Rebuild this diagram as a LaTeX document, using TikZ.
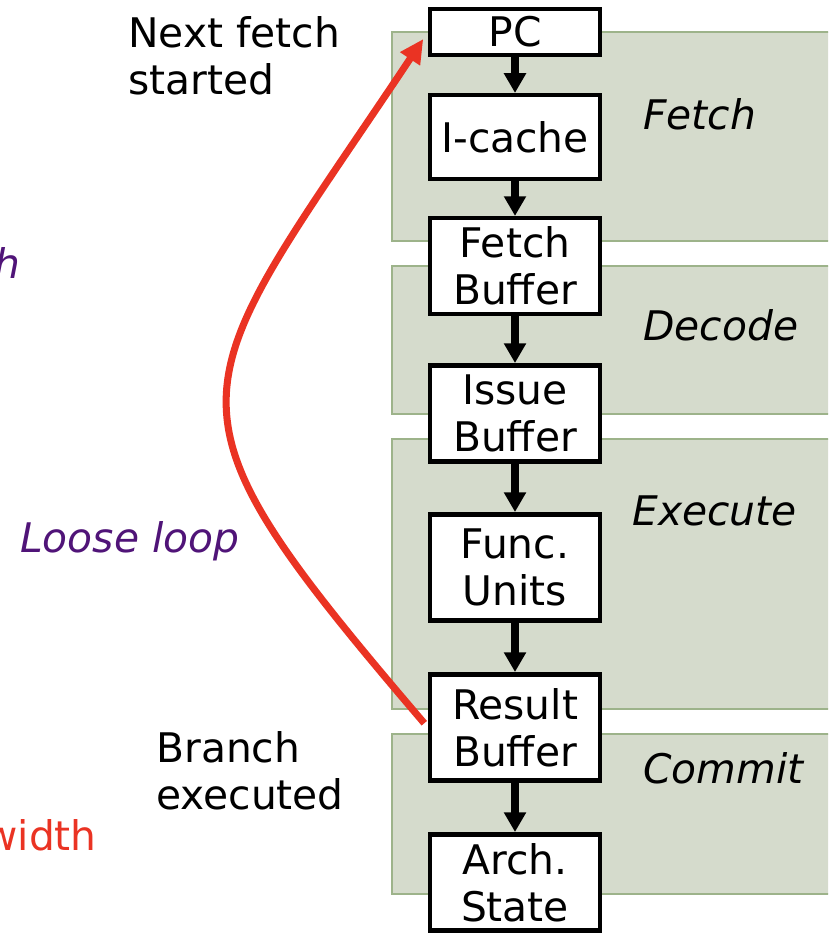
\documentclass[tikz,border=0pt]{standalone}
\usepackage{fontspec}
\setmainfont{DejaVu Sans}
\usetikzlibrary{arrows.meta}
\definecolor{stagegreen}{RGB}{213,219,204}
\definecolor{stageline}{RGB}{157,179,138}
\definecolor{loopred}{RGB}{234,51,35}
\definecolor{loosepurple}{RGB}{80,20,120}

\tikzset{
  stage/.style={fill=stagegreen, draw=stageline, line width=0.8pt},
  unit/.style={draw=black, fill=white, line width=3.2pt, minimum width=4.24cm, align=center, inner sep=0pt},
  flow/.style={-{Triangle[length=14pt,width=15pt]}, line width=5pt},
  feedback/.style={-{Triangle[length=17pt,width=16pt]}, draw=loopred, line width=5pt},
  stagelabel/.style={anchor=base west, inner sep=0pt, font=\itshape},
  note/.style={anchor=west, align=left, inner sep=0pt}
}

\begin{document}
\fontsize{29}{33.5}\selectfont
\begin{tikzpicture}[x=0.025cm, y=-0.025cm]
        \useasboundingbox (0,0) rectangle (828,938);
        \clip (0,0) rectangle (828,938);

        % Pipeline stages (background)
        \draw[stage] (392,32) rectangle (840,241);
        \draw[stage] (392,266) rectangle (840,414);
        \draw[stage] (392,439) rectangle (840,709);
        \draw[stage] (392,734) rectangle (840,894);

        \node[stagelabel] (fetchlbl) at (643,130) {Fetch};
        \node[stagelabel] (decodelbl) at (643,340) {Decode};
        \node[stagelabel] (executelbl) at (632,525) {Execute};
        \node[stagelabel] (commitlbl) at (643,783) {Commit};

        % Units
        \node[unit, minimum height=1.14cm] (pc) at (515,32) {PC};
        \node[unit, minimum height=2.09cm] (icache) at (515,137) {I-cache};
        \node[unit, minimum height=2.39cm] (fetchbuf) at (515,266) {Fetch\\Buffer};
        \node[unit, minimum height=2.41cm] (issuebuf) at (515,413.5) {Issue\\Buffer};
        \node[unit, minimum height=2.66cm] (funcunits) at (515,567.5) {Func.\\Units};
        \node[unit, minimum height=2.66cm] (resultbuf) at (515,727.5) {Result\\Buffer};
        \node[unit, minimum height=2.41cm] (archstate) at (515,882.5) {Arch.\\State};

        \draw[flow] (pc) -- (icache);
        \draw[flow] (icache) -- (fetchbuf);
        \draw[flow] (fetchbuf) -- (issuebuf);
        \draw[flow] (issuebuf) -- (funcunits);
        \draw[flow] (funcunits) -- (resultbuf);
        \draw[flow] (resultbuf) -- (archstate);

        % Loose loop back to PC
        \draw[feedback, shorten <=4pt, shorten >=6pt] (resultbuf.west) .. controls (143,394) and (182,401) .. (pc.west);

        % Side notes
        \node[note] (nextlbl) at (128,56) {Next fetch\\started};
        \node[note] (branchlbl) at (156,771) {Branch\\executed};
        \node[anchor=base west, inner sep=0pt, text=loosepurple, font=\itshape] (looselbl) at (20,552) {Loose loop};
        \node[anchor=base east, inner sep=0pt, text=loosepurple, font=\itshape] (hfrag) at (21,278) {h};
        \node[anchor=base east, inner sep=0pt, text=loopred] (widthfrag) at (97,850) {width};
    \end{tikzpicture}
\end{document}
